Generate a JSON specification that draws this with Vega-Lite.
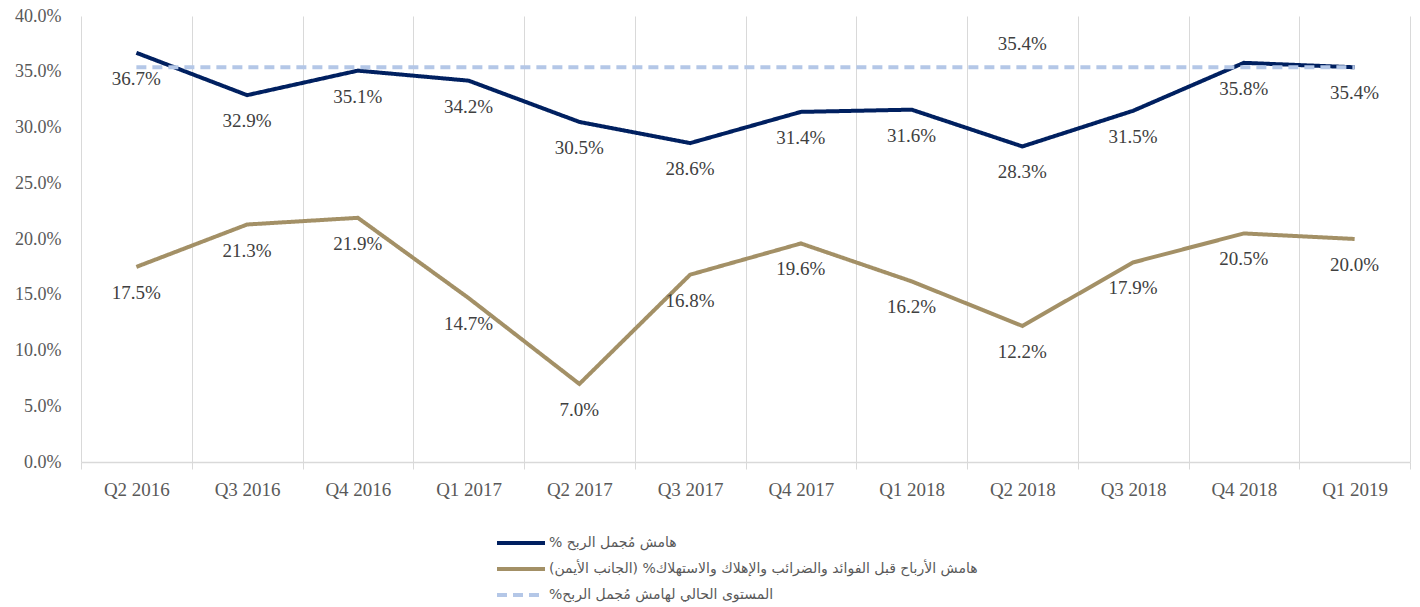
{
  "$schema": "https://vega.github.io/schema/vega-lite/v6.json",
  "width": 1329,
  "height": 446,
  "autosize": {"type": "none"},
  "padding": {"left": 81, "top": 16, "right": 10, "bottom": 145},
  "background": "white",
  "config": {"view": {"stroke": null}},
  "data": {"values": [
    {"q": "Q2 2016", "s": "% هامش مُجمل الربح", "v": 0.367},
    {"q": "Q3 2016", "s": "% هامش مُجمل الربح", "v": 0.329},
    {"q": "Q4 2016", "s": "% هامش مُجمل الربح", "v": 0.351},
    {"q": "Q1 2017", "s": "% هامش مُجمل الربح", "v": 0.342},
    {"q": "Q2 2017", "s": "% هامش مُجمل الربح", "v": 0.305},
    {"q": "Q3 2017", "s": "% هامش مُجمل الربح", "v": 0.286},
    {"q": "Q4 2017", "s": "% هامش مُجمل الربح", "v": 0.314},
    {"q": "Q1 2018", "s": "% هامش مُجمل الربح", "v": 0.316},
    {"q": "Q2 2018", "s": "% هامش مُجمل الربح", "v": 0.283},
    {"q": "Q3 2018", "s": "% هامش مُجمل الربح", "v": 0.315},
    {"q": "Q4 2018", "s": "% هامش مُجمل الربح", "v": 0.358},
    {"q": "Q1 2019", "s": "% هامش مُجمل الربح", "v": 0.354},
    {"q": "Q2 2016", "s": "هامش الأرباح قبل الفوائد والضرائب والإهلاك والاستهلاك% (الجانب الأيمن)", "v": 0.175},
    {"q": "Q3 2016", "s": "هامش الأرباح قبل الفوائد والضرائب والإهلاك والاستهلاك% (الجانب الأيمن)", "v": 0.213},
    {"q": "Q4 2016", "s": "هامش الأرباح قبل الفوائد والضرائب والإهلاك والاستهلاك% (الجانب الأيمن)", "v": 0.219},
    {"q": "Q1 2017", "s": "هامش الأرباح قبل الفوائد والضرائب والإهلاك والاستهلاك% (الجانب الأيمن)", "v": 0.147},
    {"q": "Q2 2017", "s": "هامش الأرباح قبل الفوائد والضرائب والإهلاك والاستهلاك% (الجانب الأيمن)", "v": 0.070},
    {"q": "Q3 2017", "s": "هامش الأرباح قبل الفوائد والضرائب والإهلاك والاستهلاك% (الجانب الأيمن)", "v": 0.168},
    {"q": "Q4 2017", "s": "هامش الأرباح قبل الفوائد والضرائب والإهلاك والاستهلاك% (الجانب الأيمن)", "v": 0.196},
    {"q": "Q1 2018", "s": "هامش الأرباح قبل الفوائد والضرائب والإهلاك والاستهلاك% (الجانب الأيمن)", "v": 0.162},
    {"q": "Q2 2018", "s": "هامش الأرباح قبل الفوائد والضرائب والإهلاك والاستهلاك% (الجانب الأيمن)", "v": 0.122},
    {"q": "Q3 2018", "s": "هامش الأرباح قبل الفوائد والضرائب والإهلاك والاستهلاك% (الجانب الأيمن)", "v": 0.179},
    {"q": "Q4 2018", "s": "هامش الأرباح قبل الفوائد والضرائب والإهلاك والاستهلاك% (الجانب الأيمن)", "v": 0.205},
    {"q": "Q1 2019", "s": "هامش الأرباح قبل الفوائد والضرائب والإهلاك والاستهلاك% (الجانب الأيمن)", "v": 0.200},
    {"q": "Q2 2016", "s": "%المستوى الحالي لهامش مُجمل الربح", "v": 0.354, "lab": false},
    {"q": "Q3 2016", "s": "%المستوى الحالي لهامش مُجمل الربح", "v": 0.354, "lab": false},
    {"q": "Q4 2016", "s": "%المستوى الحالي لهامش مُجمل الربح", "v": 0.354, "lab": false},
    {"q": "Q1 2017", "s": "%المستوى الحالي لهامش مُجمل الربح", "v": 0.354, "lab": false},
    {"q": "Q2 2017", "s": "%المستوى الحالي لهامش مُجمل الربح", "v": 0.354, "lab": false},
    {"q": "Q3 2017", "s": "%المستوى الحالي لهامش مُجمل الربح", "v": 0.354, "lab": false},
    {"q": "Q4 2017", "s": "%المستوى الحالي لهامش مُجمل الربح", "v": 0.354, "lab": false},
    {"q": "Q1 2018", "s": "%المستوى الحالي لهامش مُجمل الربح", "v": 0.354, "lab": false},
    {"q": "Q2 2018", "s": "%المستوى الحالي لهامش مُجمل الربح", "v": 0.354, "lab": true},
    {"q": "Q3 2018", "s": "%المستوى الحالي لهامش مُجمل الربح", "v": 0.354, "lab": false},
    {"q": "Q4 2018", "s": "%المستوى الحالي لهامش مُجمل الربح", "v": 0.354, "lab": false},
    {"q": "Q1 2019", "s": "%المستوى الحالي لهامش مُجمل الربح", "v": 0.354, "lab": false}
  ]},
  "encoding": {
    "x": {
      "field": "q", "type": "ordinal", "sort": null,
      "scale": {"type": "band", "paddingInner": 0, "paddingOuter": 0},
      "axis": {
        "title": null, "labelAngle": 0, "tickBand": "extent",
        "grid": true, "gridColor": "#D9D9D9", "gridWidth": 1,
        "domainColor": "#D9D9D9", "domainWidth": 1.3,
        "tickColor": "#D9D9D9", "tickSize": 7,
        "labelFont": "Liberation Serif", "labelFontSize": 19, "labelColor": "#595959",
        "labelPadding": 11
      }
    },
    "y": {
      "field": "v", "type": "quantitative",
      "scale": {"domain": [0, 0.4], "nice": false},
      "axis": {
        "title": null, "format": ".1%", "values": [0, 0.05, 0.1, 0.15, 0.2, 0.25, 0.3, 0.35, 0.4],
        "grid": false, "domain": false, "ticks": false, "tickSize": 0,
        "labelFont": "Liberation Serif", "labelFontSize": 18, "labelColor": "#595959",
        "labelPadding": 20
      }
    }
  },
  "layer": [
    {
      "mark": {"type": "line", "strokeWidth": 4, "strokeCap": "butt"},
      "encoding": {
        "color": {
          "field": "s", "type": "nominal",
          "scale": {
            "domain": ["% هامش مُجمل الربح", "هامش الأرباح قبل الفوائد والضرائب والإهلاك والاستهلاك% (الجانب الأيمن)", "%المستوى الحالي لهامش مُجمل الربح"],
            "range": ["#002060", "#A39066", "#B4C7E7"]
          },
          "legend": {
            "title": null, "orient": "none", "legendX": 433, "legendY": 520,
            "direction": "vertical",
            "symbolType": "M-4.8,0H4.8", "symbolSize": 100, "symbolStrokeWidth": 4,
            "labelFont": "DejaVu Sans", "labelFontSize": 14, "labelColor": "#595959",
            "labelLimit": 0, "rowPadding": 10, "labelOffset": 21
          }
        },
        "strokeDash": {
          "field": "s", "type": "nominal",
          "scale": {
            "domain": ["% هامش مُجمل الربح", "هامش الأرباح قبل الفوائد والضرائب والإهلاك والاستهلاك% (الجانب الأيمن)", "%المستوى الحالي لهامش مُجمل الربح"],
            "range": [[1, 0], [1, 0], [10, 6]]
          },
          "legend": {
            "title": null, "orient": "none", "legendX": 433, "legendY": 520,
            "direction": "vertical",
            "symbolType": "M-4.8,0H4.8", "symbolSize": 100, "symbolStrokeWidth": 4,
            "labelFont": "DejaVu Sans", "labelFontSize": 14, "labelColor": "#595959",
            "labelLimit": 0, "rowPadding": 10, "labelOffset": 21
          }
        },
        "order": {"field": "s"}
      }
    },
    {
      "transform": [{"filter": "datum.s !== '%المستوى الحالي لهامش مُجمل الربح'"}],
      "mark": {"type": "text", "dy": 26, "font": "Liberation Serif", "fontSize": 19, "color": "#404040"},
      "encoding": {"text": {"field": "v", "type": "quantitative", "format": ".1%"}}
    },
    {
      "transform": [{"filter": "datum.lab === true"}],
      "mark": {"type": "text", "dy": -23, "font": "Liberation Serif", "fontSize": 19, "color": "#404040"},
      "encoding": {"text": {"field": "v", "type": "quantitative", "format": ".1%"}}
    }
  ]
}
